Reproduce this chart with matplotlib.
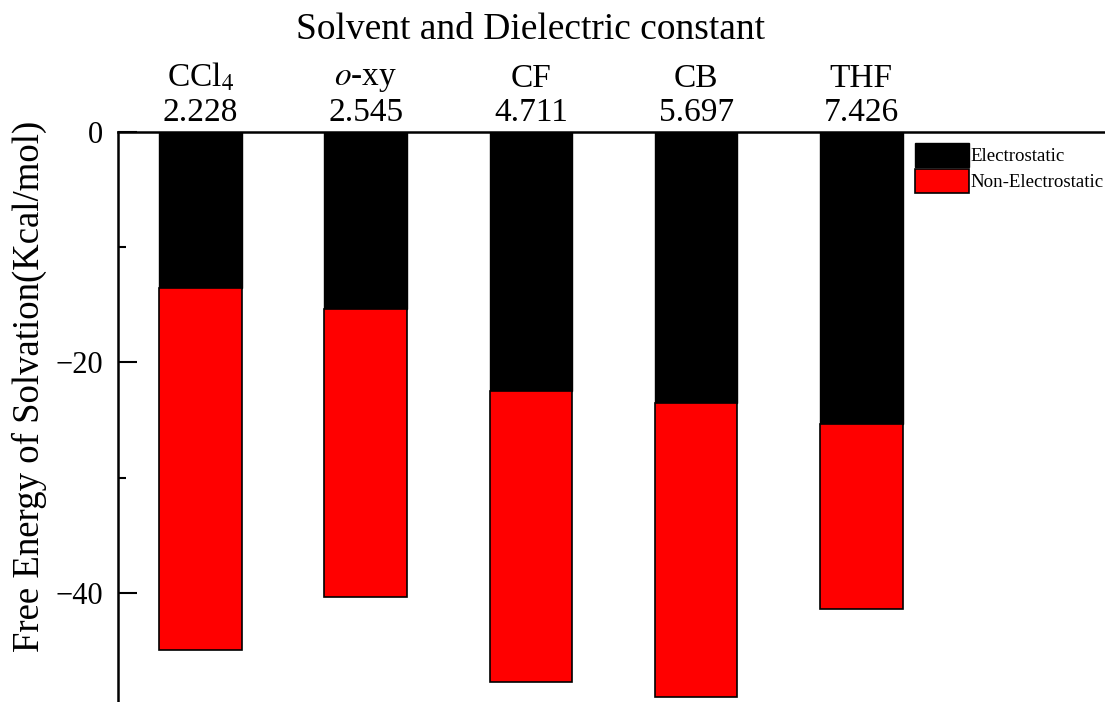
import matplotlib.pyplot as plt
import numpy as np

plt.rcParams['font.family'] = ['Liberation Serif', 'DejaVu Serif']
plt.rcParams['mathtext.fontset'] = 'stix'

# solvents with their dielectric constants
solvents = ['CCl$_4$', '$\\it{o}$-xy', 'CF', 'CB', 'THF']
dielectric = ['2.228', '2.545', '4.711', '5.697', '7.426']

# solvation free energy components (kcal/mol)
electrostatic = [-13.56, -15.33, -22.50, -23.51, -25.34]
non_electrostatic = [-31.39, -25.04, -25.25, -25.54, -16.05]

x = np.arange(1, len(solvents) + 1)

fig = plt.figure(figsize=(11.05, 7.02), dpi=100)
ax = fig.add_axes([118 / 1105, -6 / 702, 991 / 1105, 576 / 702])

ax.bar(x, electrostatic, width=0.5, color='black', edgecolor='black',
       linewidth=1, label='Electrostatic')
ax.bar(x, non_electrostatic, width=0.5, bottom=electrostatic, color='red',
       edgecolor='black', linewidth=1.2, label='Non-Electrostatic')

ax.set_xlim(0.5, 6.5)
ax.set_ylim(-50, 0)

# categories and dielectric constants along the top
ax.xaxis.tick_top()
ax.set_xticks(x)
ax.set_xticklabels([f'{s}\n{d}' for s, d in zip(solvents, dielectric)],
                   fontsize=24, linespacing=1.16)
ax.tick_params(axis='x', length=0, pad=3)

ax.set_yticks([0, -20, -40])
ax.set_yticks([-10, -30], minor=True)
ax.tick_params(axis='y', which='major', direction='in', length=14, width=1.5,
               labelsize=22, pad=11)
ax.tick_params(axis='y', which='minor', direction='in', length=6, width=1.5)

for side in ['left', 'top', 'right', 'bottom']:
    ax.spines[side].set_linewidth(1.8)

ax.set_ylabel('Free Energy of Solvation(Kcal/mol)', fontsize=26.5)
ax.yaxis.set_label_coords(-0.0716, 0.559)
ax.text(3, 1.177, 'Solvent and Dielectric constant', fontsize=27,
        ha='center', va='center',
        transform=ax.get_xaxis_transform())

ax.legend(loc='upper right', bbox_to_anchor=(1.006, 1.0), frameon=False,
          fontsize=13.6, handlelength=2.85, handleheight=1.55,
          labelspacing=0.1, handletextpad=0.1, borderaxespad=0.2)

fig.savefig('out.png', dpi=100)
